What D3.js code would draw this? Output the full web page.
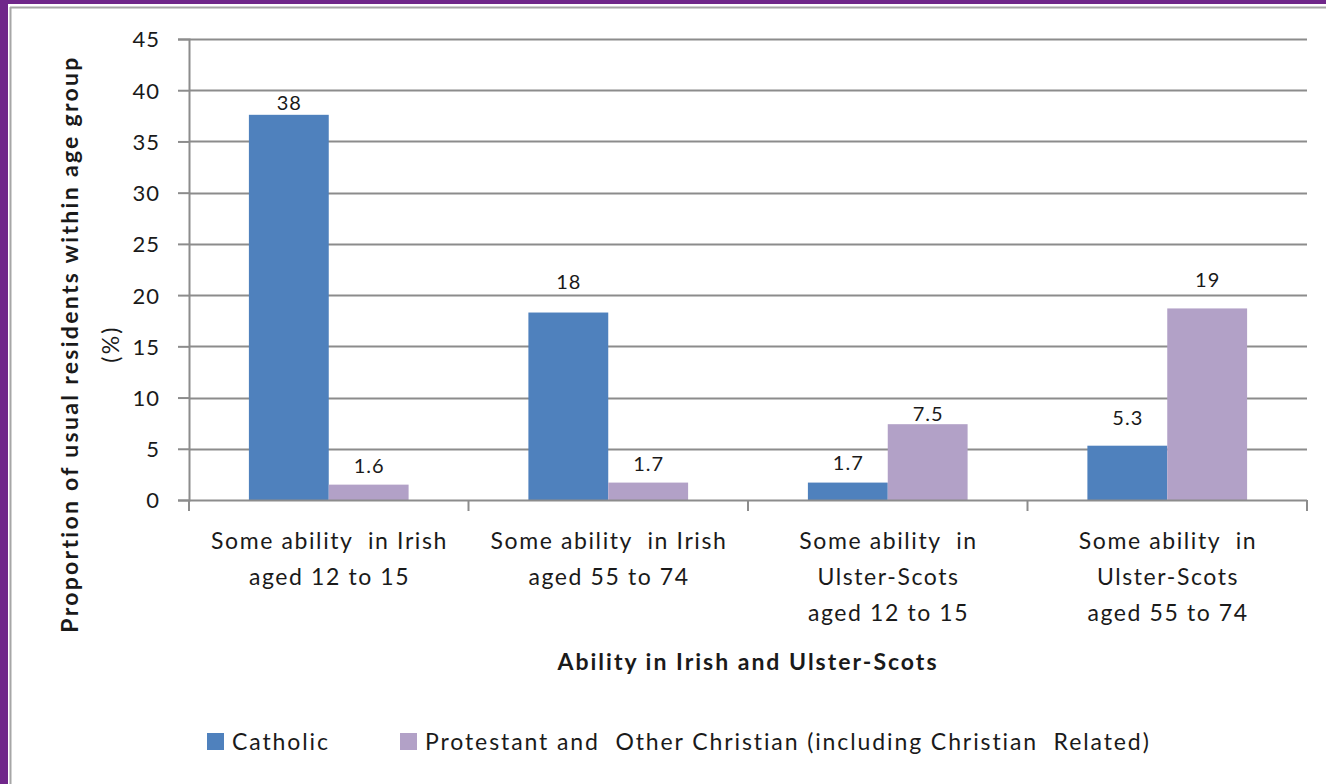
<!DOCTYPE html>
<html><head><meta charset="utf-8">
<script src="https://cdn.jsdelivr.net/npm/d3@7"></script>
<style>
html,body{margin:0;padding:0;background:#fff;}
svg{display:block;font-family:Lato,"Open Sans",sans-serif;}
text{white-space:pre;}
</style></head><body>
<svg id="chart" width="1326" height="784"></svg>
<script>
const categories = [
  ["Some ability  in Irish", "aged 12 to 15"],
  ["Some ability  in Irish", "aged 55 to 74"],
  ["Some ability  in", "Ulster-Scots", "aged 12 to 15"],
  ["Some ability  in", "Ulster-Scots", "aged 55 to 74"]
];
const seriesNames = ["Catholic", "Protestant and  Other Christian (including Christian  Related)"];
const catholic = [37.6, 18.3, 1.7, 5.3];
const protestant = [1.5, 1.7, 7.4, 18.7];
const catholicLabels = ["38", "18", "1.7", "5.3"];
const protestantLabels = ["1.6", "1.7", "7.5", "19"];
const yTicks = [0, 5, 10, 15, 20, 25, 30, 35, 40, 45];
const colors = ["#4f81bd", "#b2a1c7"];

const svg = d3.select("#chart");
// frame
svg.append("rect").attr("x",0).attr("y",0).attr("width",1326).attr("height",784).attr("fill","#fff");
svg.append("rect").attr("x",0).attr("y",0).attr("width",8).attr("height",784).attr("fill","#70278a");
svg.append("rect").attr("x",0).attr("y",0).attr("width",1326).attr("height",4).attr("fill","#70278a");
svg.append("line").attr("x1",10.5).attr("x2",10.5).attr("y1",7).attr("y2",784).attr("stroke","#a6a6a6").attr("stroke-width",2);
svg.append("line").attr("x1",10).attr("x2",1326).attr("y1",7.5).attr("y2",7.5).attr("stroke","#a6a6a6").attr("stroke-width",2);

const pLeft = 189, pRight = 1307, pTop = 39, pBottom = 500;
const x = d3.scaleBand().domain(d3.range(categories.length)).range([pLeft, pRight]).paddingInner(0).paddingOuter(0);
const y = d3.scaleLinear().domain([0, 45]).range([pBottom, pTop]);
const inner = d3.scaleBand().domain([0,1]).range([0, x.bandwidth()]).paddingOuter(0.75).paddingInner(0);

// gridlines
svg.append("g").selectAll("line").data(yTicks.filter(t => t > 0)).join("line")
  .attr("x1", pLeft).attr("x2", pRight)
  .attr("y1", d => Math.round(y(d)) + 0.5).attr("y2", d => Math.round(y(d)) + 0.5)
  .attr("stroke", "#8c8c8c").attr("stroke-width", 2);

// y axis
const yAxis = svg.append("g").attr("transform", `translate(${pLeft},0)`)
  .call(d3.axisLeft(y).tickValues(yTicks).tickSize(11).tickPadding(18));
yAxis.select(".domain").attr("stroke", "#8c8c8c").attr("stroke-width", 2);
yAxis.selectAll(".tick line").attr("stroke", "#8c8c8c").attr("stroke-width", 2);
yAxis.selectAll(".tick text").attr("font-size", 22).attr("letter-spacing", 1).attr("fill", "#1a1a1a")
  .attr("font-family", "Lato, sans-serif").attr("dy", "0.36em");

// bars
const series = [catholic, protestant];
const labels = [catholicLabels, protestantLabels];
series.forEach((vals, s) => {
  svg.append("g").selectAll("rect").data(vals).join("rect")
    .attr("x", (d, i) => x(i) + inner(s))
    .attr("y", d => y(d))
    .attr("width", inner.bandwidth())
    .attr("height", d => y(0) - y(d))
    .attr("fill", colors[s]);
});
const labelOffsets = [[5, 24, 13, 21], [12, 12, 3, 21]];
series.forEach((vals, s) => {
  svg.append("g").selectAll("text").data(vals).join("text")
    .attr("x", (d, i) => x(i) + inner(s) + inner.bandwidth() / 2 + 0.5)
    .attr("y", (d, i) => y(d) - labelOffsets[s][i])
    .attr("text-anchor", "middle").attr("font-size", 20).attr("letter-spacing", 1).attr("fill", "#1a1a1a")
    .text((d, i) => labels[s][i]);
});

// x axis
svg.append("line").attr("x1", pLeft).attr("x2", pRight).attr("y1", pBottom + 0.5).attr("y2", pBottom + 0.5)
  .attr("stroke", "#8c8c8c").attr("stroke-width", 2);
svg.append("g").selectAll("line").data(d3.range(categories.length + 1)).join("line")
  .attr("x1", i => i < categories.length ? x(i) : pRight)
  .attr("x2", i => i < categories.length ? x(i) : pRight)
  .attr("y1", pBottom).attr("y2", pBottom + 11)
  .attr("stroke", "#8c8c8c").attr("stroke-width", 2);

const xl = svg.append("g").selectAll("text").data(categories).join("text")
  .attr("x", (d, i) => x(i) + x.bandwidth() / 2 + 0.8)
  .attr("y", 549).attr("text-anchor", "middle").attr("font-size", 23).attr("letter-spacing", 1.6).attr("fill", "#1a1a1a");
xl.each(function(d) {
  const cx = d3.select(this).attr("x");
  d3.select(this).selectAll("tspan").data(d).join("tspan")
    .attr("x", cx)
    .attr("dy", (t, j) => j === 0 ? 0 : 36)
    .text(t => t);
});

// axis titles
svg.append("text").attr("x", 748).attr("y", 670).attr("text-anchor", "middle")
  .attr("font-size", 23).attr("letter-spacing", 2).attr("font-weight", "bold").attr("fill", "#1a1a1a")
  .text("Ability in Irish and Ulster-Scots");
const yt = svg.append("text").attr("transform", "translate(78,344) rotate(-90)")
  .attr("text-anchor", "middle").attr("font-size", 23).attr("letter-spacing", 2.3).attr("font-weight", "bold").attr("fill", "#1a1a1a");
yt.append("tspan").attr("x", 0).attr("dy", 0).text("Proportion of usual residents within age group");
yt.append("tspan").attr("x", 0).attr("dy", 41).attr("font-weight", "normal").text("(%)");

// legend
const legX = [207, 400];
seriesNames.forEach((n, s) => {
  svg.append("rect").attr("x", legX[s]).attr("y", 733).attr("width", 17).attr("height", 17).attr("fill", colors[s]);
  svg.append("text").attr("x", legX[s] + 25).attr("y", 750).attr("font-size", 23).attr("letter-spacing", 1.9).attr("fill", "#1a1a1a").text(n);
});
</script>
</body></html>
